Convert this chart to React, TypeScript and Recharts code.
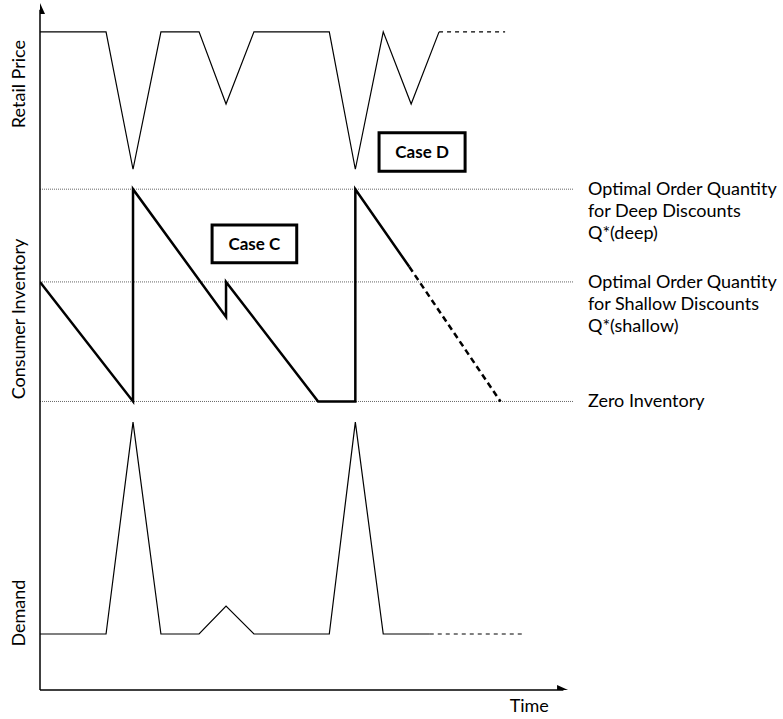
import {
  ComposedChart,
  Line,
  ReferenceArea,
  ReferenceLine,
  Scatter,
  XAxis,
  YAxis,
} from "recharts";

// time axis (diagram units) and levels
const priceT = [0, 7.1, 10, 13, 17.1, 20, 23, 31.1, 33.9, 36.9, 39.9, 42.9];
const priceV = [95.8, 95.8, 75.8, 95.8, 95.8, 85.3, 95.8, 95.8, 75.8, 95.8, 85.3, 95.8];
const priceDashT = [42.9, 50];
const priceDashV = [95.8, 95.8];

const invT = [0, 10, 10, 20, 20, 29.9, 33.9, 33.9, 39.7];
const invV = [59.4, 42, 72.9, 54.3, 59.4, 42, 42, 72.9, 61.6];
const invDashT = [39.7, 49.5];
const invDashV = [61.6, 42];

const demandT = [0, 7.1, 10, 13, 17.1, 20, 23, 31.1, 33.9, 36.9, 41.9];
const demandV = [8.15, 8.15, 39, 8.15, 8.15, 12.2, 8.15, 8.15, 39, 8.15, 8.15];
const demandDashT = [41.9, 51.8];
const demandDashV = [8.15, 8.15];

const levelNames = ["deep", "shallow", "zero"];
const levelValues = [72.9, 59.4, 42];
const levelLabels = [
  ["Optimal Order Quantity", "for Deep Discounts", "Q*(deep)"],
  ["Optimal Order Quantity", "for Shallow Discounts", "Q*(shallow)"],
  ["Zero Inventory"],
];

const panelNames = ["Retail Price", "Consumer Inventory", "Demand"];
const panelCenters = [88.2, 54, 11.2];

const timeLabel = "Time";
const timeTick = 52.6;
const xMax = 57.3;
const xArrowEnd = 56.77;

const caseC = { t1: 18.5, t2: 27.6, v1: 62.2, v2: 67.7 };
const caseD = { t1: 36.45, t2: 45.7, v1: 75.5, v2: 81.1 };

const zip = (t: number[], v: number[]) => t.map((x, i) => ({ t: x, v: v[i] }));

const FONT = "Lato, 'Open Sans', sans-serif";

function LevelLabel(props: any) {
  const { viewBox, lines } = props;
  const x = viewBox.x + viewBox.width + 15;
  const y = viewBox.y - 1;
  return (
    <text x={x} y={y} fontFamily={FONT} fontSize={18} fill="#000" dominantBaseline="central">
      {lines.map((l: string, i: number) => (
        <tspan key={i} x={x} dy={i === 0 ? 0 : 22}>
          {l}
        </tspan>
      ))}
    </text>
  );
}

function PanelTick(props: any) {
  const { y, payload } = props;
  const name = panelNames[panelCenters.indexOf(payload.value)];
  return (
    <text
      x={18}
      y={y}
      transform={`rotate(-90 18 ${y})`}
      textAnchor="middle"
      dominantBaseline="central"
      fontFamily={FONT}
      fontSize={18}
      fill="#000"
    >
      {name}
    </text>
  );
}

function TimeTick(props: any) {
  const { x } = props;
  return (
    <text x={x} y={705} textAnchor="middle" dominantBaseline="central" fontFamily={FONT} fontSize={18} fill="#000">
      {timeLabel}
    </text>
  );
}

const upArrow = (p: any) => (
  <path d={`M${p.cx},${p.cy} L${p.cx - 5},${p.cy + 11} L${p.cx + 5},${p.cy + 11} Z`} fill="#000" />
);
const rightArrow = (p: any) => (
  <path d={`M${p.cx},${p.cy} L${p.cx - 11},${p.cy - 5} L${p.cx - 11},${p.cy + 5} Z`} fill="#000" />
);

function CaseBox(c: typeof caseC, text: string) {
  return (
    <ReferenceArea
      x1={c.t1}
      x2={c.t2}
      y1={c.v1}
      y2={c.v2}
      fill="#fff"
      fillOpacity={1}
      stroke="#000"
      strokeWidth={3}
      ifOverflow="visible"
      label={{
        value: text,
        position: "center",
        fontFamily: FONT,
        fontSize: 17,
        fontWeight: 700,
        fill: "#000",
      }}
    />
  );
}

export default function App() {
  return (
    <div style={{ position: "absolute", left: 0, top: 0, background: "#fff" }}>
      <ComposedChart width={783} height={719} margin={{ top: 3, right: 210, bottom: 0, left: 0 }}>
        <XAxis
          type="number"
          dataKey="t"
          domain={[0, xMax]}
          ticks={[timeTick]}
          tick={<TimeTick />}
          axisLine={false}
          tickLine={false}
          height={29}
          allowDataOverflow
        />
        <YAxis
          type="number"
          dataKey="v"
          domain={[0, 100]}
          ticks={panelCenters}
          tick={<PanelTick />}
          axisLine={false}
          tickLine={false}
          width={40}
          allowDataOverflow
        />
        {levelValues.map((lv, i) => (
          <ReferenceLine
            key={levelNames[i]}
            y={lv}
            stroke="#666"
            strokeWidth={1}
            strokeDasharray="1 1"
            label={(p: any) => <LevelLabel {...p} lines={levelLabels[i]} />}
          />
        ))}
        <ReferenceLine
          segment={[{ x: 0, y: 0 }, { x: 0, y: 99 }]}
          stroke="#000"
          strokeWidth={1.5}
          ifOverflow="visible"
        />
        <ReferenceLine
          segment={[{ x: 0, y: 0 }, { x: xArrowEnd - 0.5, y: 0 }]}
          stroke="#000"
          strokeWidth={1.5}
          ifOverflow="visible"
        />
        <Line data={zip(priceT, priceV)} dataKey="v" type="linear" stroke="#000" strokeWidth={1.2} dot={false} activeDot={false} isAnimationActive={false} />
        <Line data={zip(priceDashT, priceDashV)} dataKey="v" type="linear" stroke="#000" strokeWidth={1.2} strokeDasharray="4 4" dot={false} activeDot={false} isAnimationActive={false} />
        <Line data={zip(invT, invV)} dataKey="v" type="linear" stroke="#000" strokeWidth={2.5} dot={false} activeDot={false} isAnimationActive={false} />
        <Line data={zip(invDashT, invDashV)} dataKey="v" type="linear" stroke="#000" strokeWidth={2.5} strokeDasharray="6 4" dot={false} activeDot={false} isAnimationActive={false} />
        <Line data={zip(demandT, demandV)} dataKey="v" type="linear" stroke="#000" strokeWidth={1.2} dot={false} activeDot={false} isAnimationActive={false} />
        <Line data={zip(demandDashT, demandDashV)} dataKey="v" type="linear" stroke="#000" strokeWidth={1.2} strokeDasharray="4 4" dot={false} activeDot={false} isAnimationActive={false} />
        {CaseBox(caseC, "Case C")}
        {CaseBox(caseD, "Case D")}
        <Scatter data={[{ t: 0, v: 100 }]} dataKey="v" shape={upArrow} isAnimationActive={false} />
        <Scatter data={[{ t: xArrowEnd, v: 0 }]} dataKey="v" shape={rightArrow} isAnimationActive={false} />
      </ComposedChart>
    </div>
  );
}
